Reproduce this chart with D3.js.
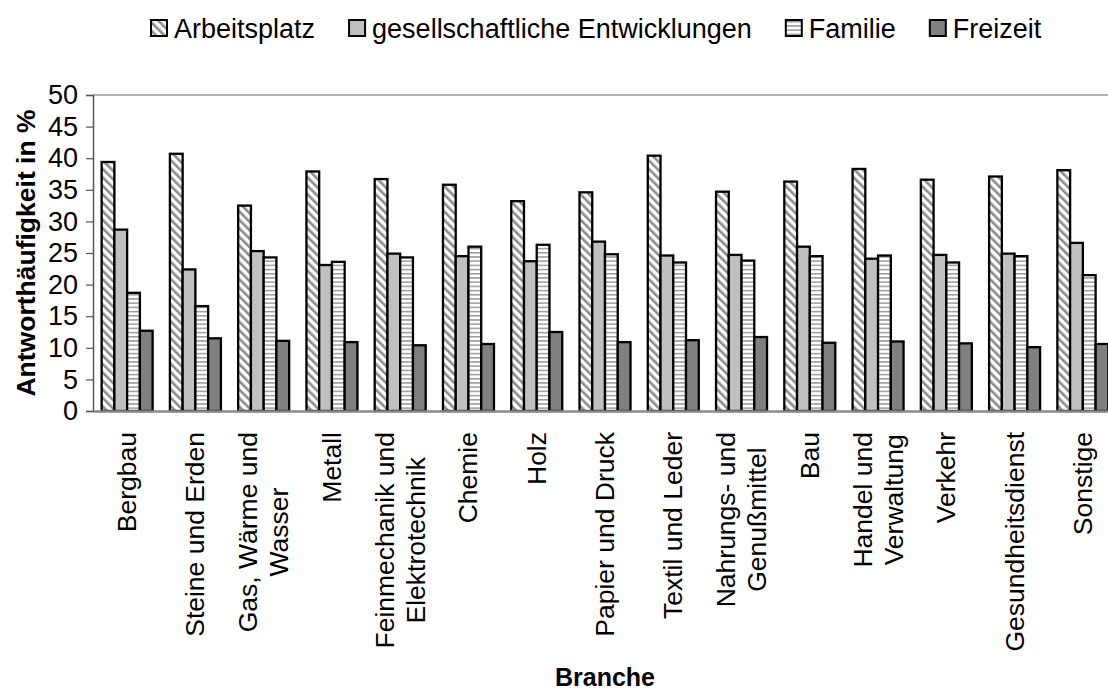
<!DOCTYPE html>
<html>
<head>
<meta charset="utf-8">
<script src="https://cdn.jsdelivr.net/npm/d3@7"></script>
<style>
  html, body { margin: 0; padding: 0; background: #fff; }
  svg { display: block; font-family: "Liberation Sans", Arial, sans-serif; }
</style>
</head>
<body>
<svg id="chart" width="1108" height="690"></svg>
<script>
// Branchen (Kategorien), mehrzeilige Beschriftungen als Zeilenlisten
const categories = [
  ["Bergbau"],
  ["Steine und Erden"],
  ["Gas, Wärme und", "Wasser"],
  ["Metall"],
  ["Feinmechanik und", "Elektrotechnik"],
  ["Chemie"],
  ["Holz"],
  ["Papier und Druck"],
  ["Textil und Leder"],
  ["Nahrungs- und", "Genußmittel"],
  ["Bau"],
  ["Handel und", "Verwaltung"],
  ["Verkehr"],
  ["Gesundheitsdienst"],
  ["Sonstige"]
];

const seriesNames = ["Arbeitsplatz", "gesellschaftliche Entwicklungen", "Familie", "Freizeit"];

const arbeitsplatz  = [39.4, 40.7, 32.5, 37.9, 36.7, 35.8, 33.2, 34.6, 40.4, 34.7, 36.3, 38.3, 36.6, 37.1, 38.1];
const gesellschaft  = [28.7, 22.4, 25.3, 23.1, 24.9, 24.5, 23.7, 26.8, 24.6, 24.7, 26.0, 24.1, 24.7, 24.9, 26.6];
const familie       = [18.7, 16.6, 24.3, 23.6, 24.3, 26.0, 26.3, 24.8, 23.5, 23.8, 24.5, 24.6, 23.5, 24.5, 21.5];
const freizeit      = [12.7, 11.5, 11.1, 10.9, 10.4, 10.6, 12.5, 10.9, 11.2, 11.7, 10.8, 11.0, 10.7, 10.1, 10.6];

const seriesValues = [arbeitsplatz, gesellschaft, familie, freizeit];

const yTicks = [0, 5, 10, 15, 20, 25, 30, 35, 40, 45, 50];

const svg = d3.select("#chart");

// Füllmuster
const defs = svg.append("defs");
const diag = defs.append("pattern")
  .attr("id", "diag")
  .attr("patternUnits", "userSpaceOnUse")
  .attr("width", 6).attr("height", 6)
  .attr("patternTransform", "rotate(-45)");
diag.append("rect").attr("width", 6).attr("height", 6).attr("fill", "#fff");
diag.append("rect").attr("width", 2.6).attr("height", 6).attr("fill", "#8c8c8c");

const hstripe = defs.append("pattern")
  .attr("id", "hstripe")
  .attr("patternUnits", "userSpaceOnUse")
  .attr("width", 6).attr("height", 4.2);
hstripe.append("rect").attr("width", 6).attr("height", 4.2).attr("fill", "#fff");
hstripe.append("rect").attr("y", 0).attr("width", 6).attr("height", 1.5).attr("fill", "#9a9a9a");

const fills = ["url(#diag)", "#c0c0c0", "url(#hstripe)", "#808080"];

// Skalen
const plotLeft = 93, plotRight = 1117, plotTop = 95, plotBottom = 411;

const x0 = d3.scaleBand()
  .domain(d3.range(categories.length))
  .range([plotLeft, plotRight])
  .paddingInner(0.253)
  .paddingOuter(0.1265);

const x1 = d3.scaleBand()
  .domain(d3.range(seriesNames.length))
  .range([0, x0.bandwidth()]);

const y = d3.scaleLinear().domain([0, 50]).range([plotBottom, plotTop]);

// Rahmen oben
svg.append("line")
  .attr("x1", plotLeft).attr("x2", plotRight)
  .attr("y1", plotTop).attr("y2", plotTop)
  .attr("stroke", "#9a9a9a").attr("stroke-width", 1.5);

// Balken
const groups = svg.append("g").selectAll("g")
  .data(categories.map((c, i) => i))
  .join("g")
  .attr("transform", i => `translate(${x0(i)},0)`);

groups.selectAll("rect")
  .data(i => seriesValues.map((vals, s) => ({ s, v: vals[i] })))
  .join("rect")
  .attr("x", d => x1(d.s))
  .attr("width", x1.bandwidth())
  .attr("y", d => y(d.v))
  .attr("height", d => y(0) - y(d.v))
  .attr("fill", d => fills[d.s])
  .attr("stroke", "#000")
  .attr("stroke-width", 2.3);

// Y-Achse
const yAxis = d3.axisLeft(y).tickValues(yTicks).tickSize(7).tickPadding(8).tickFormat(d3.format("d"));
const gy = svg.append("g").attr("transform", `translate(${plotLeft},0)`).call(yAxis);
gy.select(".domain").attr("stroke", "#555").attr("stroke-width", 1.5);
gy.selectAll(".tick line").attr("stroke", "#555").attr("stroke-width", 1.2);
gy.selectAll(".tick text")
  .attr("font-size", 27)
  .attr("fill", "#000")
  .attr("font-family", "Liberation Sans, Arial, sans-serif");

// X-Achse (Grundlinie)
const xAxis = d3.axisBottom(x0).tickSize(0).tickFormat("");
const gx = svg.append("g").attr("transform", `translate(0,${plotBottom})`).call(xAxis);
gx.select(".domain").attr("stroke", "#8a8a8a").attr("stroke-width", 2.5);

// Kategoriebeschriftungen (um -90° gedreht, oben bündig)
const labelTop = 432;
const lineH = 31;
const labG = svg.append("g");
categories.forEach((lines, i) => {
  const cx = x0(i) + x0.bandwidth() / 2;
  const g = labG.append("g");
  const texts = lines.map((t, k) => g.append("text")
    .attr("font-size", 26.5)
    .attr("fill", "#000")
    .attr("text-anchor", "middle")
    .text(t));
  const maxLen = d3.max(texts, t => t.node().getComputedTextLength());
  const n = lines.length;
  texts.forEach((t, k) => {
    const off = (k - (n - 1) / 2) * lineH;
    t.attr("transform", `translate(${cx + off + 9},${labelTop + maxLen / 2}) rotate(-90)`);
  });
});

// Achsentitel
svg.append("text")
  .attr("transform", `translate(35,${(plotTop + plotBottom) / 2}) rotate(-90)`)
  .attr("text-anchor", "middle")
  .attr("font-size", 26.5)
  .attr("font-weight", "bold")
  .text("Antworthäufigkeit in %");

svg.append("text")
  .attr("x", 605).attr("y", 686)
  .attr("text-anchor", "middle")
  .attr("font-size", 25)
  .attr("font-weight", "bold")
  .text("Branche");

// Legende
const legend = svg.append("g");
let lx = 151;
const ly = 28;
seriesNames.forEach((name, s) => {
  legend.append("rect")
    .attr("x", lx).attr("y", ly - 8)
    .attr("width", 16).attr("height", 16)
    .attr("fill", fills[s])
    .attr("stroke", "#000").attr("stroke-width", 2);
  const t = legend.append("text")
    .attr("x", lx + 23).attr("y", ly + 10)
    .attr("font-size", 27)
    .attr("fill", "#000")
    .text(name);
  lx += 23 + t.node().getComputedTextLength() + 34;
});
</script>
</body>
</html>
